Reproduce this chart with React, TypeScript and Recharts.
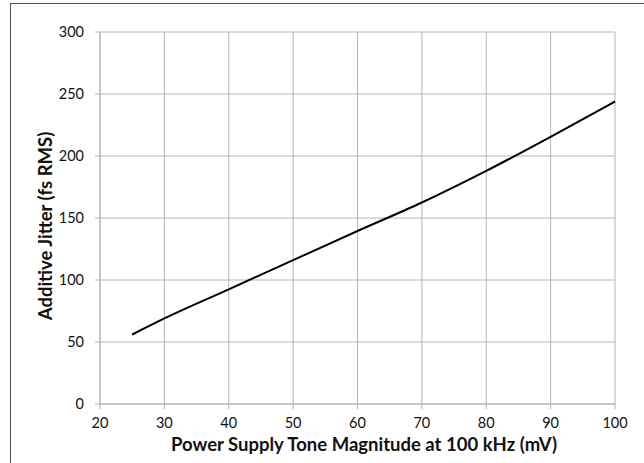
import { LineChart, Line, XAxis, YAxis, CartesianGrid, Label } from 'recharts';

// tone magnitude (mV) vs additive jitter (fs RMS)
const toneMv = [25, 30, 40, 50, 60, 70, 80, 90, 100];
const jitterFs = [56, 69, 92.5, 116, 139.5, 162.5, 188, 215.5, 244];
const xTicks = [20, 30, 40, 50, 60, 70, 80, 90, 100];
const yTicks = [0, 50, 100, 150, 200, 250, 300];

const data = toneMv.map((x, i) => ({ x, y: jitterFs[i] }));

const FONT = 'Lato, "Open Sans", sans-serif';
const GRID = '#b4b4b4';

export default function App() {
  return (
    <div style={{ position: 'absolute', left: 0, top: 0, width: 644, height: 463, overflow: 'hidden', background: '#fff' }}>
      <div
        style={{
          position: 'absolute',
          left: 10,
          top: 3,
          width: 700,
          height: 500,
          border: '1px solid #555',
        }}
      />
      <div style={{ position: 'absolute', left: 0, top: 0 }}>
        <LineChart
          width={644}
          height={463}
          data={data}
          margin={{ top: 32, right: 29, left: 40, bottom: 0 }}
        >
          <CartesianGrid stroke={GRID} strokeWidth={1} />
          <XAxis
            dataKey="x"
            type="number"
            domain={[20, 100]}
            ticks={xTicks}
            height={59}
            stroke={GRID}
            tickSize={5}
            tickMargin={9}
            tick={{ fill: '#111', fontSize: 14.5, fontFamily: FONT }}
          >
            <Label
              content={() => (
                <text
                  x={364}
                  y={451}
                  textAnchor="middle"
                  fontFamily={FONT}
                  fontWeight="bold"
                  fontSize={18.5}
                  fill="#111"
                >
                  Power Supply Tone Magnitude at 100 kHz (mV)
                </text>
              )}
            />
          </XAxis>
          <YAxis
            type="number"
            domain={[0, 300]}
            ticks={yTicks}
            width={60}
            stroke={GRID}
            tickSize={5}
            tickMargin={11}
            tick={{ fill: '#111', fontSize: 14.5, fontFamily: FONT }}
          >
            <Label
              content={() => (
                <text
                  x={52}
                  y={226}
                  transform="rotate(-90 52 226)"
                  textAnchor="middle"
                  fontFamily={FONT}
                  fontWeight="bold"
                  fontSize={18.5}
                  fill="#111"
                >
                  Additive Jitter (fs RMS)
                </text>
              )}
            />
          </YAxis>
          <Line
            dataKey="y"
            type="monotone"
            stroke="#000"
            strokeWidth={2}
            dot={false}
            isAnimationActive={false}
          />
        </LineChart>
      </div>
    </div>
  );
}
